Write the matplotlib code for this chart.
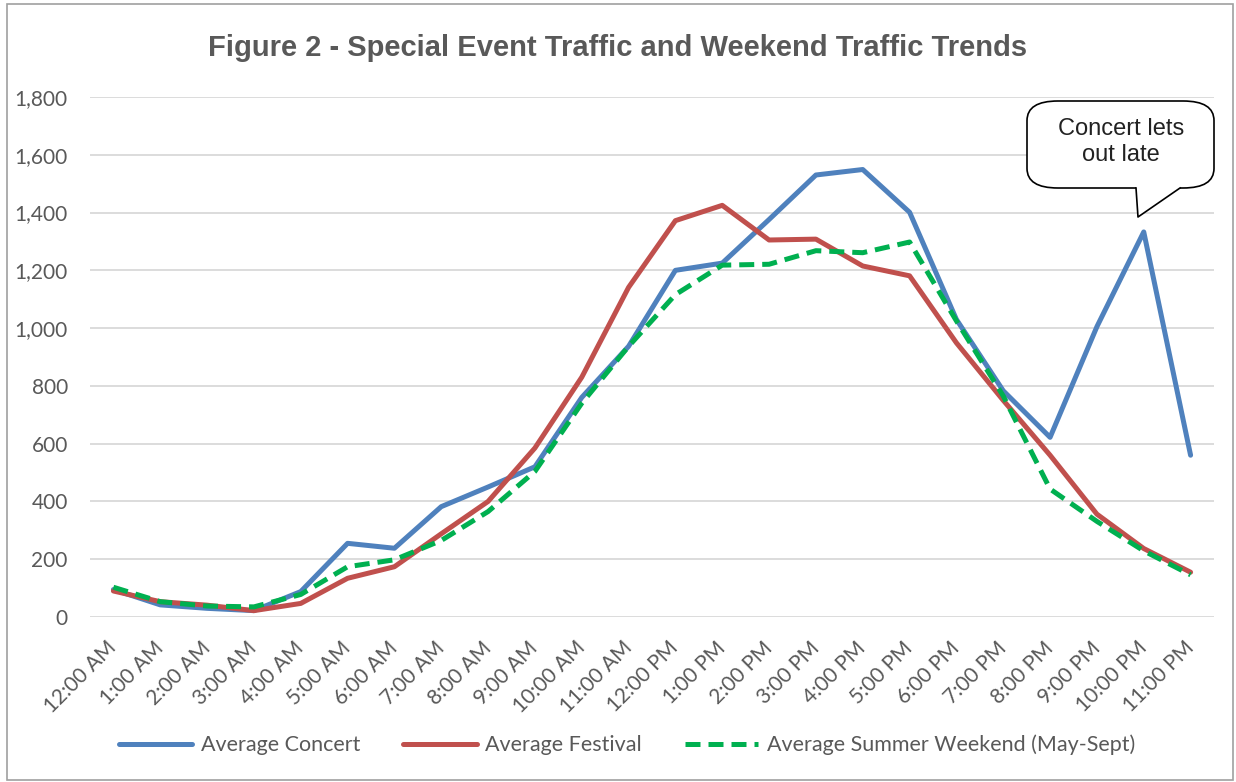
import matplotlib
matplotlib.use("Agg")
import matplotlib.pyplot as plt
from matplotlib.patches import FancyBboxPatch, Polygon, Rectangle
from matplotlib.lines import Line2D

# hourly traffic counts
hours = ["12:00 AM", "1:00 AM", "2:00 AM", "3:00 AM", "4:00 AM", "5:00 AM",
         "6:00 AM", "7:00 AM", "8:00 AM", "9:00 AM", "10:00 AM", "11:00 AM",
         "12:00 PM", "1:00 PM", "2:00 PM", "3:00 PM", "4:00 PM", "5:00 PM",
         "6:00 PM", "7:00 PM", "8:00 PM", "9:00 PM", "10:00 PM", "11:00 PM"]
concert = [95, 42, 30, 22, 88, 255, 238, 382, 450, 520, 760, 937,
           1200, 1225, 1376, 1530, 1549, 1401, 1030, 783, 622, 1005, 1333, 560]
festival = [90, 53, 41, 22, 47, 134, 174, 288, 400, 585, 830, 1141,
            1372, 1425, 1305, 1308, 1215, 1181, 949, 750, 560, 356, 237, 155]
weekend = [103, 53, 38, 35, 78, 174, 198, 265, 365, 504, 740, 937,
           1116, 1218, 1221, 1268, 1261, 1298, 1025, 765, 443, 331, 229, 146]

W, H = 1236, 782
fig = plt.figure(figsize=(W / 100, H / 100), dpi=100)
ax = fig.add_axes([90 / W, 1 - 617 / H, 1124 / W, 520 / H])

x = range(len(hours))
ax.plot(x, concert, color="#4f81bd", lw=3.6, label="Average Concert", solid_capstyle="round")
ax.plot(x, festival, color="#c0504d", lw=3.6, label="Average Festival", solid_capstyle="round")
ax.plot(x, weekend, color="#00b050", lw=3.6, ls=(0, (3, 1.6)),
        label="Average Summer Weekend (May-Sept)")

ax.set_xlim(-0.5, len(hours) - 0.5)
ax.set_ylim(0, 1800)
ax.set_yticks(range(0, 1801, 200))
ax.set_yticklabels([f"{v:,}" for v in range(0, 1801, 200)])
ax.set_xticks(list(x))
ax.set_xticklabels(hours, rotation=45, ha="right", va="center", rotation_mode="anchor")
ax.grid(axis="y", color="#d9d9d9", lw=1.3)
ax.set_axisbelow(True)
for s in ax.spines.values():
    s.set_visible(False)
ax.tick_params(length=0, labelsize=15, labelcolor="#595959")
ax.tick_params(axis="y", pad=16)
ax.tick_params(axis="x", pad=20)
for t in ax.get_xticklabels() + ax.get_yticklabels():
    t.set_family("Lato")

fig.text(0.5, 1 - 48 / H, "Figure 2 - Special Event Traffic and Weekend Traffic Trends",
         ha="center", va="center", fontsize=21, fontweight="bold",
         color="#595959", family="Liberation Sans")

leg = fig.legend(loc="center", bbox_to_anchor=(627 / W, 1 - 745 / H), ncol=3,
                 frameon=False, handlelength=3.4, handletextpad=0.4,
                 columnspacing=2.0, prop={"family": "Lato", "size": 15.5})
for t in leg.get_texts():
    t.set_color("#595959")

# outer chart border
fig.patches.append(Rectangle((7 / W, 2 / H), 1226 / W, 776 / H, transform=fig.transFigure,
                             fill=False, edgecolor="#a0a0a0", lw=1.2))


# callout box (pixel positions converted to figure fractions)
def fx(px):
    return px / W


def fy(py):
    return 1 - py / H


box = FancyBboxPatch((fx(1027), fy(188)), fx(1214) - fx(1027), fy(101) - fy(188),
                     boxstyle="round,pad=0,rounding_size=0.025", transform=fig.transFigure,
                     facecolor="white", edgecolor="black", lw=1.2, zorder=5)
fig.patches.append(box)
tail_pts = [(1136, 185), (1136, 188), (1138, 217), (1180, 188), (1180, 185)]
tail = Polygon([(fx(a), fy(b)) for a, b in tail_pts], closed=True, transform=fig.transFigure,
               facecolor="white", edgecolor="none", zorder=6)
fig.patches.append(tail)
fig.lines.append(Line2D([fx(1136), fx(1138), fx(1180)], [fy(188), fy(217), fy(188)],
                        transform=fig.transFigure, color="black", lw=1.2, zorder=7))
fig.text(fx(1121), fy(142), "Concert lets\nout late", ha="center", va="center",
         fontsize=17, family="Liberation Sans", color="#222222", linespacing=1.2, zorder=8)

fig.savefig("out.png", dpi=100)
